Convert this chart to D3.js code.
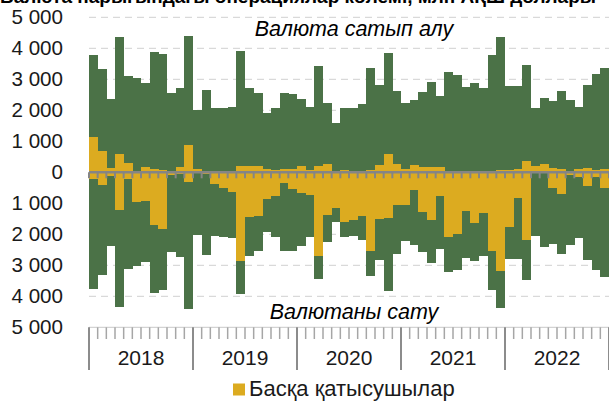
<!DOCTYPE html>
<html>
<head>
<meta charset="utf-8">
<script src="https://cdn.jsdelivr.net/npm/d3@7"></script>
<style>
  html, body { margin: 0; padding: 0; background: #fff; }
  svg { display: block; font-family: "Liberation Sans", Arial, sans-serif; }
</style>
</head>
<body>
<svg id="chart" width="609" height="401"></svg>
<script>
// ---- data (million USD, monthly Jan 2018 – Dec 2022) ----
const years = ["2018", "2019", "2020", "2021", "2022"];
// total turnover per month (buy side = sell side)
const totalTurnover = [
  3780, 3320, 2365, 4350, 3120, 3030, 2890, 3890, 3805, 2570, 2730, 4410,
  2010, 2655, 2065, 2085, 2105, 3925, 2710, 2550, 1925, 2085, 2550, 2525,
  2365, 2095, 3440, 2245, 1600, 2085, 2065, 2190, 3355, 2815, 3840, 2630,
  2225, 2330, 2580, 2925, 2460, 3225, 3140, 2760, 2870, 2710, 3785, 4375,
  2785, 2790, 3460, 2065, 2410, 2310, 2630, 2330, 2120, 2815, 3160, 3375
];
// other participants – currency purchase
const otherBuy = [
  1150, 677, 150, 580, 312, 50, 160, 108, 86, 0, 160, 870,
  97, 0, 0, 0, 0, 204, 190, 210, 110, 60, 115, 120,
  210, 90, 200, 275, 30, 60, 50, 50, 75, 240, 595, 275,
  118, 236, 160, 160, 160, 0, 20, 50, 50, 0, 50, 86,
  86, 97, 365, 200, 270, 130, 120, 0, 97, 150, 90, 120
];
// other participants – currency sale
const otherSell = [
  220, 415, 115, 1215, 205, 946, 940, 1690, 1840, 95, 60, 300,
  30, 40, 390, 516, 623, 2850, 1440, 1405, 860, 760, 330, 530,
  677, 720, 2700, 1365, 1150, 1600, 1525, 1410, 2530, 1516, 1484, 1040,
  1040, 580, 1270, 1538, 760, 2076, 1980, 1248, 1625, 1300, 2540, 3175,
  1765, 840, 2170, 30, 30, 516, 690, 86, 160, 430, 150, 516
];
const yTicks = [5000, 4000, 3000, 2000, 1000, 0, -1000, -2000, -3000, -4000, -5000];
const gridValues = [5000, 4000, 3000, 2000, 1000, -1000, -2000, -3000, -4000];
const legendLabel = "Басқа қатысушылар";
const buyLabel = "Валюта сатып алу";
const sellLabel = "Валютаны сату";
const titleText = "Валюта нарығындағы операциялар көлемі, млн АҚШ доллары";

// ---- styling ----
const GREEN = "#4b7247";
const YELLOW = "#dcab20";

const svg = d3.select("#chart");
const months = d3.range(totalTurnover.length);
const pL = 89, pR = 609, pT = 17.3, pB = 327.3;

const x = d3.scaleBand().domain(months).range([pL, pR]).padding(0);
const y = d3.scaleLinear().domain([-5000, 5000]).range([pB, pT]);

// title (cut off at top, as in reference)
svg.append("text")
  .attr("x", 298).attr("y", 3)
  .attr("text-anchor", "middle")
  .attr("font-weight", "bold")
  .attr("font-size", 19)
  .attr("fill", "#000")
  .text(titleText);

// gridlines
svg.append("g").selectAll("line").data(gridValues).join("line")
  .attr("x1", pL).attr("x2", pR)
  .attr("y1", d => y(d)).attr("y2", d => y(d))
  .attr("stroke", "#d9d9d9").attr("stroke-width", 1.3)
  .attr("stroke-dasharray", "7,5");

// bars
const bars = svg.append("g").attr("shape-rendering", "crispEdges");
bars.selectAll("rect.gu").data(months).join("rect")
  .attr("x", i => x(i)).attr("width", x.bandwidth() + 0.4)
  .attr("y", i => y(totalTurnover[i]))
  .attr("height", i => y(0) - y(totalTurnover[i]))
  .attr("fill", GREEN);
bars.selectAll("rect.gd").data(months).join("rect")
  .attr("x", i => x(i)).attr("width", x.bandwidth() + 0.4)
  .attr("y", y(0))
  .attr("height", i => y(-totalTurnover[i]) - y(0))
  .attr("fill", GREEN);
bars.selectAll("rect.yu").data(months).join("rect")
  .attr("x", i => x(i)).attr("width", x.bandwidth() + 0.4)
  .attr("y", i => y(otherBuy[i]))
  .attr("height", i => y(0) - y(otherBuy[i]))
  .attr("fill", YELLOW);
bars.selectAll("rect.yd").data(months).join("rect")
  .attr("x", i => x(i)).attr("width", x.bandwidth() + 0.4)
  .attr("y", y(0))
  .attr("height", i => y(-otherSell[i]) - y(0))
  .attr("fill", YELLOW);

// zero line with small ticks
const boundaries = d3.range(totalTurnover.length + 1).map(i => pL + i * x.step());
svg.append("line")
  .attr("x1", pL).attr("x2", pR)
  .attr("y1", y(0)).attr("y2", y(0))
  .attr("stroke", "#858585").attr("stroke-width", 2.4);
svg.append("g").selectAll("line").data(boundaries).join("line")
  .attr("x1", d => d).attr("x2", d => d)
  .attr("y1", y(0)).attr("y2", y(0) + 6)
  .attr("stroke", "#858585").attr("stroke-width", 2);

// y axis labels
const yAxis = d3.axisLeft(y)
  .tickValues(yTicks)
  .tickSize(0)
  .tickPadding(26)
  .tickFormat(d => d3.format(",")(Math.abs(d)).replace(/,/g, "\u00a0"));
const gy = svg.append("g").attr("transform", `translate(${pL},0)`).call(yAxis);
gy.select(".domain").remove();
gy.selectAll("text")
  .attr("font-family", "Liberation Sans, Arial, sans-serif")
  .attr("font-size", 20.6)
  .attr("fill", "#1a1a1a");

// bottom category axis
svg.append("line")
  .attr("x1", pL).attr("x2", pR)
  .attr("y1", pB).attr("y2", pB)
  .attr("stroke", "#c8c8c8").attr("stroke-width", 1);
svg.append("g").selectAll("line").data(boundaries).join("line")
  .attr("x1", d => d).attr("x2", d => d)
  .attr("y1", pB)
  .attr("y2", (d, i) => (i % 12 === 0 ? 370 : 339))
  .attr("stroke", (d, i) => (i % 12 === 0 ? "#8c8c8c" : "#a6a6a6"))
  .attr("stroke-width", (d, i) => (i % 12 === 0 ? 2 : 1.5));

const yearScale = d3.scaleBand().domain(years).range([pL, pL + 60 * x.step()]);
svg.append("g").selectAll("text").data(years).join("text")
  .attr("x", d => yearScale(d) + yearScale.bandwidth() / 2)
  .attr("y", 365)
  .attr("text-anchor", "middle")
  .attr("font-size", 21)
  .attr("fill", "#1a1a1a")
  .text(d => d);

// side labels
svg.append("text")
  .attr("x", 354).attr("y", 36)
  .attr("text-anchor", "middle")
  .attr("font-style", "italic")
  .attr("font-size", 21.5)
  .attr("fill", "#000")
  .text(buyLabel);
svg.append("text")
  .attr("x", 354).attr("y", 319)
  .attr("text-anchor", "middle")
  .attr("font-style", "italic")
  .attr("font-size", 21.5)
  .attr("fill", "#000")
  .text(sellLabel);

// legend
const lg = svg.append("g");
lg.append("rect").attr("x", 233).attr("y", 383.5).attr("width", 12).attr("height", 12).attr("fill", YELLOW);
lg.append("text").attr("x", 249).attr("y", 396)
  .attr("font-size", 22).attr("fill", "#1a1a1a")
  .text(legendLabel);
</script>
</body>
</html>
